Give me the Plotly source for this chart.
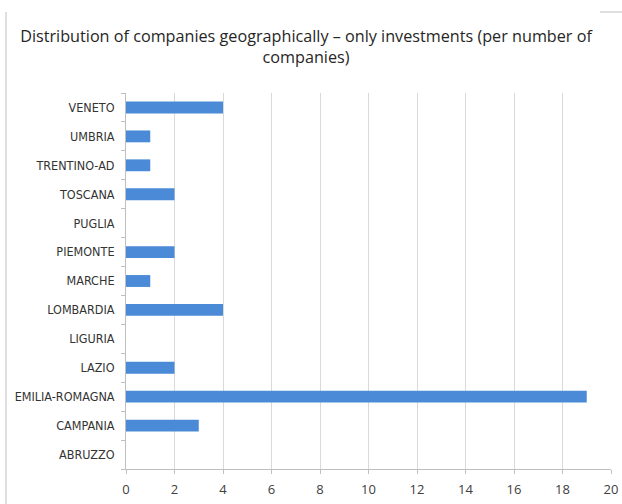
import plotly.graph_objects as go

regions = ["ABRUZZO", "CAMPANIA", "EMILIA-ROMAGNA", "LAZIO", "LIGURIA", "LOMBARDIA",
           "MARCHE", "PIEMONTE", "PUGLIA", "TOSCANA", "TRENTINO-AD", "UMBRIA", "VENETO"]
companies = [0, 3, 19, 2, 0, 4, 1, 2, 0, 2, 1, 1, 4]
x_ticks = [0, 2, 4, 6, 8, 10, 12, 14, 16, 18, 20]

title_text = "Distribution of companies geographically – only investments (per number of<br>companies)"

L, R, T, B = 126, 11, 93, 35
PW, PH = 622 - L - R, 504 - T - B

fig = go.Figure()
fig.add_trace(go.Bar(
    y=regions, x=companies, orientation="h",
    marker=dict(color="#4a8ad6", line=dict(width=0)),
    width=0.41,
))

fig.update_layout(
    width=622, height=504,
    paper_bgcolor="white", plot_bgcolor="white",
    margin=dict(l=L, r=R, t=T, b=B, autoexpand=False),
    showlegend=False,
    title=dict(text=title_text, x=0.492, xanchor="center", y=0.917, yanchor="top",
               font=dict(family="Open Sans", size=16.2, color="#262626")),
    font=dict(family="DejaVu Sans Condensed, Liberation Sans Narrow", color="#404040", size=12),
)
fig.update_xaxes(
    range=[0, 20], tickvals=x_ticks, showgrid=True, gridcolor="#d9d9d9", gridwidth=1,
    showline=True, linecolor="#bfbfbf", linewidth=1, automargin=False,
    ticks="outside", ticklen=4, tickcolor="#bfbfbf", ticklabelstandoff=4,
    tickfont=dict(family="Open Sans", size=13, color="#404040"), zeroline=False,
)
fig.update_yaxes(
    type="category", categoryorder="array", categoryarray=regions,
    showline=True, linecolor="#bfbfbf", linewidth=1, automargin=False,
    ticks="outside", ticklen=4, tickcolor="#bfbfbf", tickson="boundaries",
    tickfont=dict(size=12.5, color="#333333"), ticklabelstandoff=8,
    showgrid=False, zeroline=False,
)
# frame fragments of the cropped chart border
fig.add_shape(type="line", xref="paper", yref="paper",
              x0=(6 - L) / PW, x1=(6 - L) / PW, y0=-B / PH, y1=(PH + T - 12) / PH,
              line=dict(color="#bfbfbf", width=1))
fig.add_shape(type="line", xref="paper", yref="paper",
              x0=(600 - L) / PW, x1=(622 - L) / PW, y0=(PH + T - 12) / PH, y1=(PH + T - 12) / PH,
              line=dict(color="#bfbfbf", width=1))

fig.write_html("out.html", config={"displayModeBar": False},
               post_script="document.body.style.margin='0';document.body.style.overflow='hidden';")
